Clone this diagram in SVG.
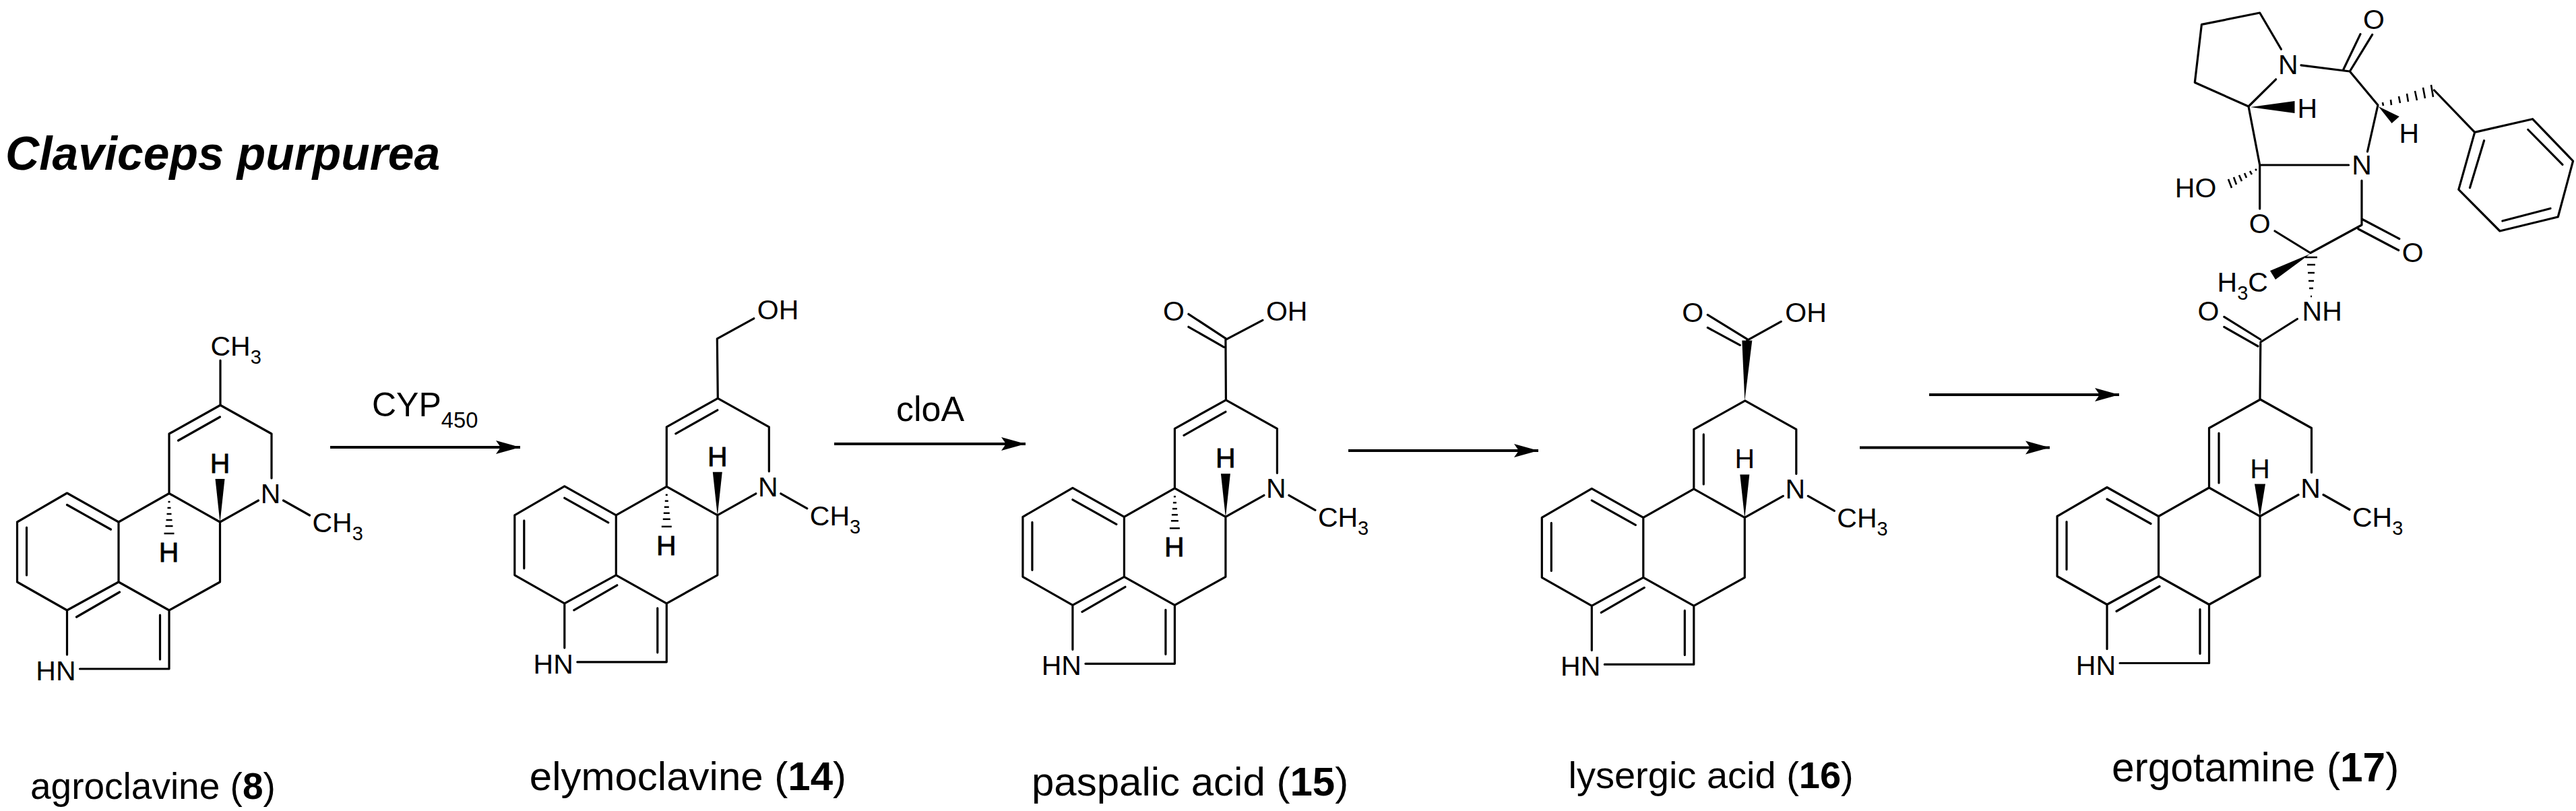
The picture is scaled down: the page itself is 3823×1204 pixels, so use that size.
<svg xmlns="http://www.w3.org/2000/svg" xmlns:xlink="http://www.w3.org/1999/xlink" width="3823" height="1204" viewBox="0 0 3823 1204">
<style>
text{font-family:"Liberation Sans",Arial,sans-serif;fill:#000}
.a{font-size:41px}
.h{font-size:41px;stroke:#000;stroke-width:.8px}
.m{text-anchor:middle}
.e{text-anchor:end}
.s{font-size:29px}
.bold{font-weight:bold}
.bond{fill:none;stroke:#000;stroke-width:3.2;stroke-linecap:round;stroke-linejoin:round}
.hash{fill:none;stroke:#000;stroke-width:2.6}
.wedge{fill:#000;stroke:none}
.arrow{fill:none;stroke:#000;stroke-width:4}
</style>
<defs>
<marker id="ah" markerUnits="userSpaceOnUse" markerWidth="38" markerHeight="22" refX="36" refY="11" orient="auto" viewBox="0 0 38 22"><path d="M0,1 L36,11 L0,21 L7,11 Z" fill="#000"/></marker>
<path id="core" class="bond" d="M-227,-43 L-301,0 L-301,89 L-227,131 L-150.5,89 L-150.5,0 Z M-150.5,0 L-75.5,-42.5 L0,0 L0,89 L-75.5,131 L-150.5,89 M-75.5,131 L-75.5,218 L-208,218 M-227,131 L-227,197 M-75.5,-42.5 L-75.5,-131 L0.5,-173.5 L76.5,-131 L76.5,-65 M0,0 L57,-32 M94,-32 L133,-10 M-227,-25.5 L-162,11 M-287,8 L-287,79 M-213,141 L-149,104 M-89,138 L-89,204"/>
<path id="db89" class="bond" d="M-62,-121 L0,-156"/>
<path id="db910" class="bond" d="M-61,-123.5 L-61,-49.5"/>
<polygon id="wH" class="wedge" points="0,1 -7,-64 7,-64"/>
<path id="hH" class="hash" d="M-77,-30 h3 M-78,-21 h5 M-79,-12 h7 M-80,-3 h9 M-81,6 h11 M-83,17 h15"/>
</defs>
<g id="title"><text class="bold" x="8" y="252" font-style="italic" style="font-size:69.5px">Claviceps purpurea</text></g>

<g id="agroclavine" transform="translate(326.5,775)">
<use href="#core"/><use href="#db89"/><use href="#wH"/><use href="#hH"/>
<path class="bond" d="M0.5,-173.5 L0.5,-240"/>
<text class="a" x="-14" y="-247">CH<tspan class="s" dy="12">3</tspan></text>
<text class="h m" x="0" y="-73">H</text><text class="h m" x="-76" y="59">H</text>
<text class="a m" x="75" y="-28">N</text><text class="a" x="137" y="15">CH<tspan class="s" dy="12">3</tspan></text>
<text class="a e" x="-214" y="235">HN</text>
<text x="-281.5" y="410.7" style="font-size:55px">agroclavine (<tspan class="bold">8</tspan>)</text>
</g>

<g id="elymoclavine" transform="translate(1064.8,764.8)">
<use href="#core"/><use href="#db89"/><use href="#wH"/><use href="#hH"/>
<path class="bond" d="M0.5,-173.5 L-0.5,-262 L54,-292"/>
<text class="a" x="59" y="-291">OH</text>
<text class="h m" x="0" y="-73">H</text><text class="h m" x="-76" y="59">H</text>
<text class="a m" x="75" y="-28">N</text><text class="a" x="137" y="15">CH<tspan class="s" dy="12">3</tspan></text>
<text class="a e" x="-214" y="235">HN</text>
<text x="-279" y="408.2" style="font-size:60px">elymoclavine (<tspan class="bold">14</tspan>)</text>
</g>

<g id="paspalic-acid" transform="translate(1818.9,767.3)">
<use href="#core"/><use href="#db89"/><use href="#wH"/><use href="#hH"/>
<path class="bond" d="M0.5,-173.5 L0,-263 L55,-292 M0,-265 L-55,-301 M-2.5,-252 L-55,-282"/>
<text class="a m" x="-77" y="-291">O</text><text class="a" x="60" y="-291">OH</text>
<text class="h m" x="0" y="-73">H</text><text class="h m" x="-76" y="59">H</text>
<text class="a m" x="75" y="-28">N</text><text class="a" x="137" y="15">CH<tspan class="s" dy="12">3</tspan></text>
<text class="a e" x="-214" y="235">HN</text>
<text x="-288" y="413.3" style="font-size:60px">paspalic acid (<tspan class="bold">15</tspan>)</text>
</g>

<g id="lysergic-acid" transform="translate(2589.3,768.4)">
<use href="#core"/><use href="#db910"/><use href="#wH"/>
<polygon class="wedge" points="0,-173.5 -4,-263 11,-263"/>
<path class="bond" d="M3.5,-263 L54,-291 M3.5,-265 L-55,-301 M-7,-256 L-55,-282"/>
<text class="a m" x="-77" y="-290">O</text><text class="a" x="60" y="-290">OH</text>
<text class="a m" x="0" y="-73">H</text>
<text class="a m" x="75" y="-28">N</text><text class="a" x="137" y="15">CH<tspan class="s" dy="12">3</tspan></text>
<text class="a e" x="-214" y="235">HN</text>
<text x="-261.8" y="401.6" style="font-size:56px">lysergic acid (<tspan class="bold">16</tspan>)</text>
</g>

<g id="ergotamine" transform="translate(3354,766.5)">
<use href="#core"/><use href="#db910"/>
<polygon class="wedge" points="0,1 -8,-48 8,-48"/>
<text class="a m" x="0" y="-57">H</text>
<text class="a m" x="75" y="-28">N</text><text class="a" x="137" y="15">CH<tspan class="s" dy="12">3</tspan></text>
<text class="a e" x="-214" y="235">HN</text>
<text x="-220" y="393.5" style="font-size:60.4px">ergotamine (<tspan class="bold">17</tspan>)</text>
</g>

<g id="ergotamine-peptide">
<path class="bond" d="M3354,593 L3354.8,510 M3354.8,508 L3409.4,473.5 M3354.8,504 L3300.8,470.4 M3351,514 L3300.8,485.4"/>
<path class="bond" d="M3385.4,73 L3353.7,19 L3267.4,36.4 L3257.3,122.5 L3337,158 L3377.6,117.8 M3415,96.8 L3487.3,106 L3529,156 L3513.5,225 M3487.3,106 L3520.7,51.4 M3478,102.8 L3503,50.6 M3612.6,134 L3672.7,196.4 M3672.7,196.4 L3758.5,176.7 L3818.6,239 L3796.3,322 L3710,343 L3648.8,281.4 Z M3686.6,208.7 L3665.5,278.7 M3751.8,192.5 L3803,244.3 M3785,309.5 L3713.9,328 M3337,158 L3353.7,245 L3485.6,245 M3353.7,245 L3353.7,310 M3376,343 L3428.8,375.5 L3505,334 L3505,268 M3506.8,326 L3560.8,354.5 M3500,340 L3559.7,371.5"/>
<polygon class="wedge" points="3339.8,159 3405.5,150 3405.5,168"/>
<polygon class="wedge" points="3529.8,158 3549.6,183 3560.8,173"/>
<polygon class="wedge" points="3428.4,377 3369,402 3377,415"/>
<path class="hash" d="M3536,152 l1,5 M3548,148 l1,8 M3560,143 l2,10 M3572,139 l2,12 M3584,135 l3,14 M3596,130 l3,16 M3608,126 l3,18"/>
<path class="hash" d="M3347,251 l2,2 M3339,254 l3,5 M3331,257 l3,7 M3323,260 l4,9 M3315,263 l4,11 M3307,266 l5,13"/>
<path class="hash" d="M3421,382 h18 M3424,393 h12 M3425,405 h10 M3426,417 h8 M3427,428 h6 M3429,440 h2"/>
<text class="a m" x="3395.9" y="110">N</text>
<text class="a m" x="3523" y="42.7">O</text>
<text class="a m" x="3424.4" y="175">H</text>
<text class="a m" x="3575.4" y="211.7">H</text>
<text class="a m" x="3505" y="259">N</text>
<text class="a" x="3227.8" y="292.7">HO</text>
<text class="a m" x="3353.7" y="346">O</text>
<text class="a m" x="3580.8" y="389">O</text>
<text class="a" x="3290.6" y="433">H<tspan class="s" dy="12">3</tspan><tspan dy="-12">C</tspan></text>
<text class="a" x="3416.6" y="476">NH</text>
<text class="a m" x="3277.4" y="476">O</text>
</g>

<g id="connectors">
<line class="arrow" x1="490" y1="664" x2="772" y2="664" marker-end="url(#ah)"/>
<line class="arrow" x1="1238" y1="659" x2="1522" y2="659" marker-end="url(#ah)"/>
<line class="arrow" x1="2001" y1="669" x2="2283" y2="669" marker-end="url(#ah)"/>
<line class="arrow" x1="2760" y1="664.5" x2="3042" y2="664.5" marker-end="url(#ah)"/>
<line class="arrow" x1="2863" y1="586" x2="3145" y2="586" marker-end="url(#ah)"/>
</g>
<g id="reagents">
<text x="552" y="618" style="font-size:50px">CYP<tspan dy="17" style="font-size:32.7px">450</tspan></text>
<text x="1330" y="624.5" style="font-size:52px">cloA</text>
</g>
</svg>
